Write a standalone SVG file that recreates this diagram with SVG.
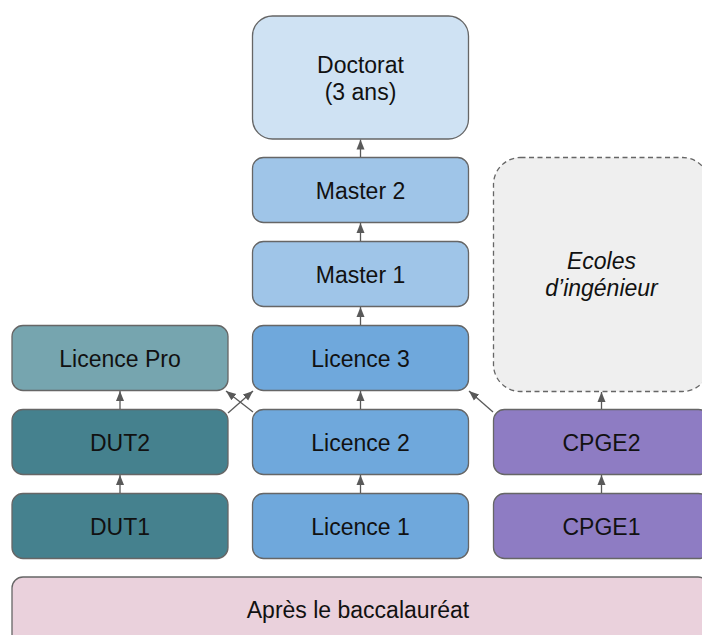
<svg xmlns="http://www.w3.org/2000/svg" width="702" height="635" viewBox="0 0 702 635">
  <style>
    .box { stroke: #666666; stroke-width: 1.3; }
    .lbl { font-family: "Liberation Sans", Arial, sans-serif; font-size: 23px; fill: #111111; text-anchor: middle; }
    .it { font-style: italic; }
    .lic { fill: #6fa8dc; }
    .mas { fill: #9fc5e8; }
    .dut { fill: #45818e; }
    .cpge { fill: #8e7cc3; }
    .conn line { stroke: #595959; stroke-width: 1.3; fill: none; marker-end: url(#arrow); }
  </style>
  <defs>
    <marker id="arrow" markerUnits="userSpaceOnUse" markerWidth="10" markerHeight="10" viewBox="0 0 10 10" refX="10" refY="5" orient="auto">
      <path d="M0,1 L10,5 L0,9 Z" fill="#595959"/>
    </marker>
  </defs>

  <rect width="702" height="635" fill="#ffffff"/>

  <g id="doctorat">
    <rect class="box" x="252.5" y="16" width="216" height="123" rx="20" fill="#cfe2f3"/>
    <text class="lbl" x="360.5" y="73">Doctorat</text>
    <text class="lbl" x="360.5" y="100">(3 ans)</text>
  </g>
  <g id="master2">
    <rect class="box mas" x="252.5" y="157.5" width="216" height="65" rx="11"/>
    <text class="lbl" x="360.5" y="199">Master 2</text>
  </g>
  <g id="master1">
    <rect class="box mas" x="252.5" y="241.5" width="216" height="65" rx="11"/>
    <text class="lbl" x="360.5" y="283">Master 1</text>
  </g>
  <g id="licence3">
    <rect class="box lic" x="252.5" y="325.5" width="216" height="65" rx="11"/>
    <text class="lbl" x="360.5" y="367">Licence 3</text>
  </g>
  <g id="licence2">
    <rect class="box lic" x="252.5" y="409.5" width="216" height="65" rx="11"/>
    <text class="lbl" x="360.5" y="451">Licence 2</text>
  </g>
  <g id="licence1">
    <rect class="box lic" x="252.5" y="493.5" width="216" height="65" rx="11"/>
    <text class="lbl" x="360.5" y="535">Licence 1</text>
  </g>

  <g id="licence-pro">
    <rect class="box" x="12" y="325.5" width="216" height="65" rx="11" fill="#76a5af"/>
    <text class="lbl" x="120" y="367">Licence Pro</text>
  </g>
  <g id="dut2">
    <rect class="box dut" x="12" y="409.5" width="216" height="65" rx="11"/>
    <text class="lbl" x="120" y="451">DUT2</text>
  </g>
  <g id="dut1">
    <rect class="box dut" x="12" y="493.5" width="216" height="65" rx="11"/>
    <text class="lbl" x="120" y="535">DUT1</text>
  </g>

  <g id="ecoles">
    <rect class="box" x="493.5" y="157.5" width="216" height="234" rx="27" fill="#efefef" stroke-dasharray="5 3.5"/>
    <text class="lbl it" x="601.5" y="269">Ecoles</text>
    <text class="lbl it" x="601.5" y="296">d’ingénieur</text>
  </g>
  <g id="cpge2">
    <rect class="box cpge" x="493.5" y="409.5" width="216" height="65" rx="11"/>
    <text class="lbl" x="601.5" y="451">CPGE2</text>
  </g>
  <g id="cpge1">
    <rect class="box cpge" x="493.5" y="493.5" width="216" height="65" rx="11"/>
    <text class="lbl" x="601.5" y="535">CPGE1</text>
  </g>

  <g id="apres-bac">
    <rect class="box" x="12" y="577" width="697" height="70" rx="11" fill="#ead1dc"/>
    <text class="lbl" x="358" y="618">Après le baccalauréat</text>
  </g>

  <g id="connectors" class="conn">
    <line x1="360.5" y1="157" x2="360.5" y2="139.5"/>
    <line x1="360.5" y1="241" x2="360.5" y2="223"/>
    <line x1="360.5" y1="325" x2="360.5" y2="307"/>
    <line x1="360.5" y1="409" x2="360.5" y2="391"/>
    <line x1="360.5" y1="493" x2="360.5" y2="475"/>
    <line x1="120" y1="409" x2="120" y2="391"/>
    <line x1="120" y1="493" x2="120" y2="475"/>
    <line x1="601.5" y1="409" x2="601.5" y2="392"/>
    <line x1="601.5" y1="493" x2="601.5" y2="475"/>
    <line x1="228" y1="413" x2="253" y2="391"/>
    <line x1="253" y1="412" x2="226" y2="391"/>
    <line x1="493" y1="412" x2="469" y2="391"/>
  </g>
</svg>
